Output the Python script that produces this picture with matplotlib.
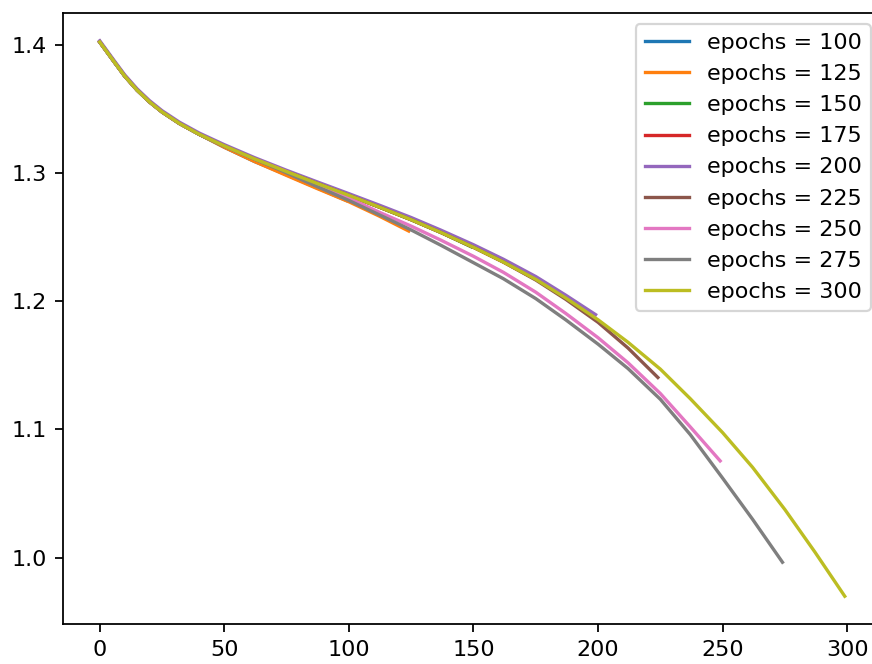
import matplotlib

matplotlib.use("Agg")
import matplotlib.pyplot as plt

X_GRID = [0, 3, 6, 10, 15, 20, 25, 32, 40, 50, 62, 75, 87, 100, 112, 125, 137,
          150, 162, 175, 187, 200, 212, 225, 237, 250, 262, 275, 287]

EPOCHS = [100, 125, 150, 175, 200, 225, 250, 275, 300]

# per run: values at X_GRID points below the last epoch, then the last point
VALUES = {
    100: [1.402, 1.394, 1.386, 1.3755, 1.3645, 1.3553, 1.3475, 1.3385, 1.3300,
          1.3200, 1.3090, 1.2985, 1.2885, 1.2785],
    125: [1.402, 1.394, 1.386, 1.3755, 1.3645, 1.3553, 1.3475, 1.3385, 1.3300,
          1.3200, 1.3090, 1.2980, 1.2880, 1.2775, 1.2665, 1.2547],
    150: [1.402, 1.394, 1.386, 1.3755, 1.3645, 1.3553, 1.3475, 1.3385, 1.3300,
          1.3210, 1.3110, 1.3010, 1.2920, 1.2825, 1.2735, 1.2635, 1.2535, 1.2425],
    175: [1.402, 1.394, 1.386, 1.3755, 1.3645, 1.3553, 1.3475, 1.3385, 1.3300,
          1.3210, 1.3110, 1.3010, 1.2920, 1.2825, 1.2735, 1.2635, 1.2535, 1.2420,
          1.2305, 1.2180],
    200: [1.403, 1.395, 1.387, 1.3765, 1.3655, 1.3563, 1.3485, 1.3395, 1.3310,
          1.3220, 1.3120, 1.3020, 1.2932, 1.2838, 1.2750, 1.2652, 1.2553, 1.2440,
          1.2327, 1.2192, 1.2047, 1.1895],
    225: [1.402, 1.394, 1.386, 1.3755, 1.3645, 1.3553, 1.3475, 1.3385, 1.3300,
          1.3210, 1.3110, 1.3010, 1.2920, 1.2825, 1.2735, 1.2635, 1.2535, 1.2420,
          1.2305, 1.2165, 1.2015, 1.1835, 1.1635, 1.1405],
    250: [1.402, 1.394, 1.386, 1.3755, 1.3645, 1.3553, 1.3475, 1.3385, 1.3300,
          1.3210, 1.3110, 1.3010, 1.2910, 1.2805, 1.2695, 1.2585, 1.2475, 1.2350,
          1.2225, 1.2070, 1.1905, 1.1715, 1.1520, 1.1280, 1.1020, 1.0755],
    275: [1.402, 1.394, 1.386, 1.3755, 1.3645, 1.3553, 1.3475, 1.3385, 1.3300,
          1.3210, 1.3110, 1.3000, 1.2895, 1.2785, 1.2675, 1.2555, 1.2435, 1.2300,
          1.2175, 1.2020, 1.1855, 1.1665, 1.1475, 1.1235, 1.0960, 1.0620, 1.0300,
          0.9965],
    300: [1.402, 1.394, 1.386, 1.3755, 1.3645, 1.3553, 1.3475, 1.3385, 1.3300,
          1.3210, 1.3110, 1.3010, 1.2920, 1.2825, 1.2735, 1.2635, 1.2535, 1.2420,
          1.2305, 1.2170, 1.2025, 1.1855, 1.1680, 1.1470, 1.1240, 1.0975, 1.0705,
          1.0375, 1.0045, 0.9700],
}


def main() -> None:
    fig = plt.figure(figsize=(872 / 160, 664 / 160), dpi=160)
    # axes run slightly past the right edge, as in the cropped original
    ax = fig.add_axes([62.5 / 872, 40 / 664, 819.5 / 872, 611 / 664])
    ax.spines["right"].set_visible(False)

    for n in EPOCHS:
        last = n - 1
        xs = [g for g in X_GRID if g < last] + [last]
        ax.plot(xs, VALUES[n], label=f"epochs = {n}")

    ax.legend(loc="upper right")
    fig.savefig("out.png", dpi=160)


if __name__ == "__main__":
    main()
